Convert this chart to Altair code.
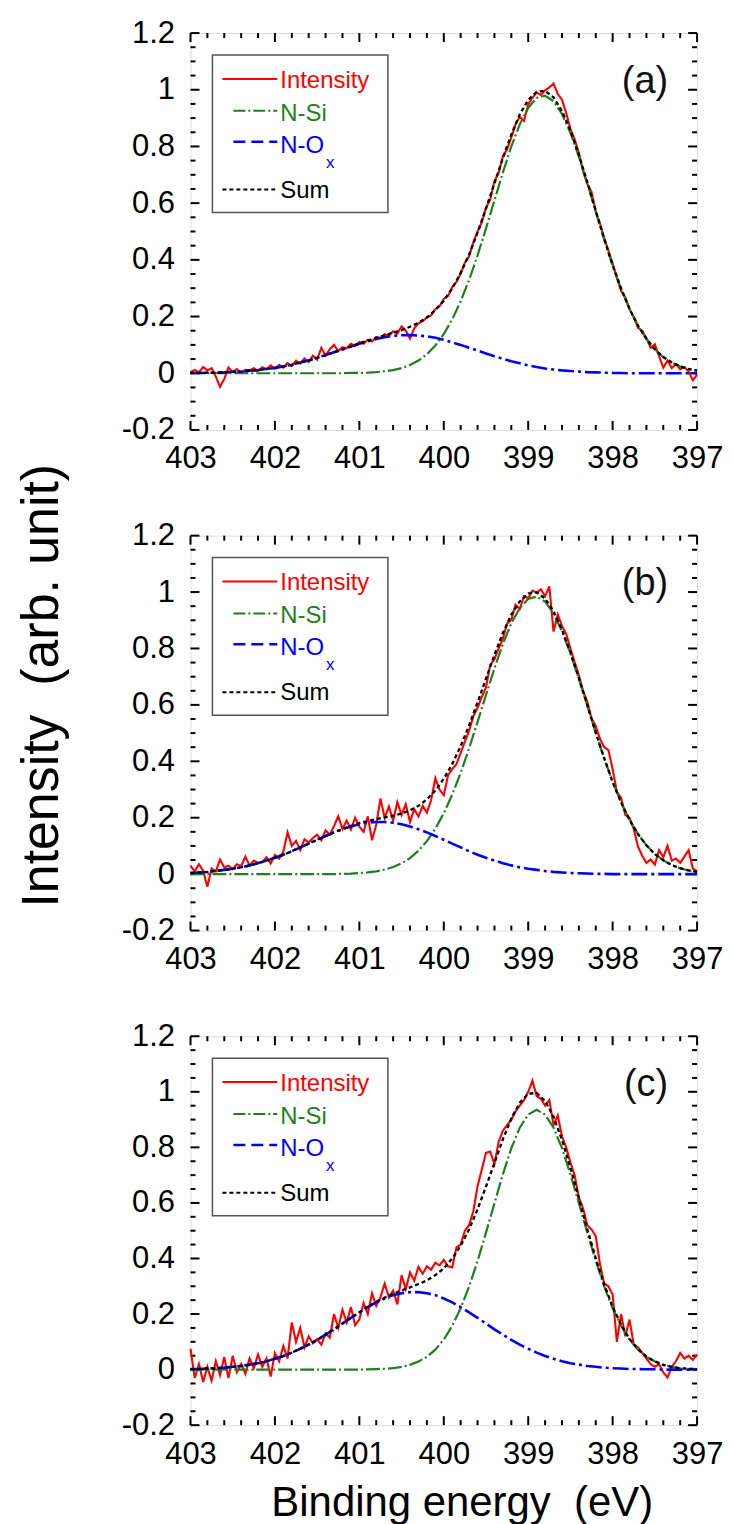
import altair as alt
import pandas as pd

FONT = "Liberation Sans"

# ---------------- data ----------------
E_FINE = [round(403 - 0.05 * i, 2) for i in range(121)]     # 403.00 ... 397.00
E_COARSE = [round(403 - 0.1 * i, 1) for i in range(61)]     # 403.0 ... 397.0

X_TICKS_MAJOR = [403, 402, 401, 400, 399, 398, 397]
X_TICKS_MINOR = [402.8, 402.6, 402.4, 402.2, 401.8, 401.6, 401.4, 401.2,
                 400.8, 400.6, 400.4, 400.2, 399.8, 399.6, 399.4, 399.2,
                 398.8, 398.6, 398.4, 398.2, 397.8, 397.6, 397.4, 397.2]
Y_TICKS_MAJOR = [-0.2, 0, 0.2, 0.4, 0.6, 0.8, 1.0, 1.2]
Y_TICKS_MINOR = [-0.15, -0.1, -0.05, 0.05, 0.1, 0.15, 0.25, 0.3, 0.35, 0.45,
                 0.5, 0.55, 0.65, 0.7, 0.75, 0.85, 0.9, 0.95, 1.05, 1.1, 1.15]

# ---- panel (a)
INT_A = [0.004, 0.012, 0.003, 0.022, 0.010, 0.018, -0.012, -0.048, -0.020, 0.020,
         0.004, 0.015, 0.002, 0.012, 0.010, 0.018, 0.008, 0.021, 0.014, 0.028,
         0.016, 0.030, 0.020, 0.036, 0.025, 0.044, 0.034, 0.052, 0.040, 0.062,
         0.048, 0.090, 0.062, 0.085, 0.100, 0.078, 0.092, 0.088, 0.104, 0.096,
         0.110, 0.104, 0.118, 0.112, 0.128, 0.124, 0.138, 0.132, 0.148, 0.140,
         0.165, 0.150, 0.122, 0.158, 0.176, 0.184, 0.196, 0.204, 0.226, 0.236,
         0.262, 0.272, 0.304, 0.322, 0.352, 0.390, 0.412, 0.462, 0.500, 0.532,
         0.585, 0.612, 0.678, 0.706, 0.765, 0.790, 0.832, 0.878, 0.905, 0.890,
         0.948, 0.972, 0.990, 0.982, 0.998, 1.008, 1.022, 0.985, 0.965, 0.918,
         0.862, 0.825, 0.778, 0.712, 0.668, 0.640, 0.570, 0.528, 0.478, 0.432,
         0.388, 0.336, 0.290, 0.268, 0.226, 0.198, 0.160, 0.150, 0.124, 0.090,
         0.102, 0.060, 0.020, 0.045, 0.018, 0.032, 0.014, 0.022, 0.006, -0.025,
         -0.005]
NSI_A = [0.0] * 19 + [
    0.001, 0.001, 0.002, 0.004, 0.007, 0.011, 0.018, 0.029, 0.045, 0.067,
    0.098, 0.138, 0.190, 0.254, 0.329, 0.416, 0.511, 0.610, 0.708, 0.800,
    0.878, 0.936, 0.971, 0.979, 0.960, 0.915, 0.848, 0.764, 0.670, 0.570,
    0.472, 0.380, 0.298, 0.227, 0.168, 0.121, 0.084, 0.057, 0.038, 0.024,
    0.015, 0.009]
NOX_A = [0.001, 0.001, 0.002, 0.002, 0.003, 0.005, 0.006, 0.009, 0.011, 0.015,
         0.019, 0.024, 0.030, 0.038, 0.045, 0.054, 0.064, 0.074, 0.084, 0.094,
         0.104, 0.113, 0.121, 0.127, 0.132, 0.134, 0.135, 0.133, 0.130, 0.125,
         0.118, 0.109, 0.100, 0.090, 0.080, 0.070, 0.060, 0.051, 0.042, 0.035,
         0.028, 0.022, 0.017, 0.013, 0.010, 0.008, 0.006, 0.004, 0.003, 0.002,
         0.001, 0.001] + [0.0] * 9
SUM_A = [0.001, 0.001, 0.002, 0.002, 0.003, 0.005, 0.006, 0.009, 0.011, 0.015,
         0.019, 0.024, 0.030, 0.038, 0.045, 0.054, 0.064, 0.074, 0.084, 0.095,
         0.105, 0.115, 0.125, 0.134, 0.143, 0.152, 0.164, 0.178, 0.197, 0.223,
         0.256, 0.299, 0.354, 0.419, 0.496, 0.581, 0.670, 0.759, 0.842, 0.913,
         0.964, 0.993, 0.996, 0.973, 0.925, 0.856, 0.770, 0.674, 0.573, 0.474,
         0.381, 0.299, 0.227, 0.168, 0.121, 0.084, 0.057, 0.038, 0.024, 0.015,
         0.009]

# ---- panel (b)
INT_B = [0.030, 0.010, 0.035, 0.012, -0.045, 0.020, 0.010, 0.052, 0.024, 0.030,
         0.018, 0.035, 0.028, 0.062, 0.030, 0.048, 0.040, 0.042, 0.060, 0.038,
         0.068, 0.055, 0.080, 0.148, 0.100, 0.118, 0.085, 0.124, 0.112, 0.128,
         0.140, 0.120, 0.155, 0.140, 0.170, 0.205, 0.160, 0.190, 0.158, 0.200,
         0.168, 0.150, 0.205, 0.120, 0.175, 0.268, 0.200, 0.240, 0.190, 0.255,
         0.210, 0.248, 0.185, 0.230, 0.205, 0.242, 0.218, 0.262, 0.340, 0.300,
         0.280, 0.350, 0.372, 0.390, 0.430, 0.470, 0.508, 0.560, 0.590, 0.628,
         0.662, 0.742, 0.762, 0.800, 0.835, 0.888, 0.902, 0.955, 0.940, 0.985,
         0.978, 1.005, 0.998, 1.010, 0.985, 1.020, 0.860, 0.920, 0.880, 0.852,
         0.800, 0.752, 0.706, 0.650, 0.612, 0.552, 0.525, 0.480, 0.450, 0.440,
         0.372, 0.292, 0.270, 0.210, 0.200, 0.160, 0.098, 0.065, 0.040, 0.052,
         0.034, 0.085, 0.060, 0.100, 0.048, 0.055, 0.040, 0.062, 0.085, 0.020,
         0.010]
NSI_B = [0.0] * 18 + [
    0.001, 0.002, 0.004, 0.006, 0.010, 0.016, 0.025, 0.038, 0.057, 0.083,
    0.117, 0.161, 0.216, 0.282, 0.359, 0.446, 0.540, 0.635, 0.729, 0.816,
    0.889, 0.943, 0.976, 0.984, 0.966, 0.924, 0.861, 0.782, 0.692, 0.597,
    0.501, 0.410, 0.327, 0.254, 0.192, 0.142, 0.102, 0.071, 0.049, 0.032,
    0.021, 0.013, 0.008]
NOX_B = [0.004, 0.006, 0.008, 0.011, 0.015, 0.019, 0.024, 0.031, 0.039, 0.048,
         0.058, 0.069, 0.081, 0.095, 0.108, 0.122, 0.135, 0.148, 0.159, 0.169,
         0.177, 0.182, 0.185, 0.185, 0.182, 0.177, 0.169, 0.159, 0.148, 0.135,
         0.122, 0.108, 0.095, 0.081, 0.069, 0.058, 0.048, 0.039, 0.031, 0.024,
         0.019, 0.015, 0.011, 0.008, 0.006, 0.004, 0.003, 0.002, 0.001, 0.001] + [0.0] * 11
SUM_B = [0.004, 0.006, 0.008, 0.011, 0.015, 0.019, 0.024, 0.031, 0.039, 0.048,
         0.058, 0.069, 0.081, 0.095, 0.108, 0.122, 0.135, 0.148, 0.160, 0.171,
         0.181, 0.188, 0.195, 0.201, 0.207, 0.215, 0.226, 0.242, 0.265, 0.296,
         0.338, 0.390, 0.454, 0.527, 0.609, 0.693, 0.777, 0.855, 0.920, 0.967,
         0.995, 0.999, 0.977, 0.932, 0.867, 0.786, 0.695, 0.599, 0.502, 0.411,
         0.327, 0.254, 0.192, 0.142, 0.102, 0.071, 0.049, 0.032, 0.021, 0.013,
         0.008]

# ---- panel (c)
INT_C = [0.075, -0.030, 0.020, -0.045, 0.010, -0.040, 0.030, -0.020, 0.045, -0.030,
         0.050, -0.010, 0.020, -0.015, 0.040, 0.005, 0.055, 0.010, 0.040, -0.025,
         0.060, 0.030, 0.085, 0.040, 0.170, 0.100, 0.150, 0.080, 0.120, 0.095,
         0.110, 0.090, 0.130, 0.115, 0.200, 0.150, 0.215, 0.170, 0.225, 0.160,
         0.180, 0.240, 0.200, 0.275, 0.230, 0.260, 0.310, 0.260, 0.285, 0.235,
         0.340, 0.290, 0.350, 0.320, 0.370, 0.345, 0.372, 0.360, 0.385, 0.375,
         0.395, 0.372, 0.368, 0.440, 0.450, 0.500, 0.520, 0.570, 0.660, 0.720,
         0.780, 0.785, 0.740, 0.820, 0.860, 0.880, 0.900, 0.930, 0.950, 0.970,
         1.000, 1.040, 0.985, 0.975, 0.950, 0.970, 0.880, 0.915, 0.840, 0.800,
         0.745, 0.700, 0.620, 0.580, 0.520, 0.505, 0.480, 0.380, 0.310, 0.300,
         0.270, 0.100, 0.200, 0.120, 0.180, 0.090, 0.080, 0.060, 0.040, 0.020,
         0.010, 0.020, -0.010, -0.028, 0.010, 0.030, 0.060, 0.040, 0.050, 0.035,
         0.055]
NSI_C = [0.0] * 21 + [
    0.001, 0.002, 0.003, 0.005, 0.010, 0.017, 0.029, 0.046, 0.072, 0.108,
    0.158, 0.221, 0.299, 0.391, 0.493, 0.599, 0.703, 0.797, 0.871, 0.918,
    0.935, 0.918, 0.871, 0.797, 0.703, 0.599, 0.493, 0.391, 0.299, 0.221,
    0.158, 0.108, 0.072, 0.046, 0.029, 0.017, 0.010, 0.005, 0.003, 0.002]
NOX_C = [0.002, 0.002, 0.004, 0.005, 0.007, 0.010, 0.013, 0.018, 0.023, 0.030,
         0.039, 0.049, 0.061, 0.075, 0.090, 0.107, 0.126, 0.145, 0.166, 0.186,
         0.206, 0.225, 0.242, 0.256, 0.268, 0.275, 0.279, 0.279, 0.275, 0.268,
         0.256, 0.242, 0.225, 0.206, 0.186, 0.166, 0.145, 0.126, 0.107, 0.090,
         0.075, 0.061, 0.049, 0.039, 0.030, 0.023, 0.018, 0.013, 0.010, 0.007,
         0.005, 0.004, 0.002, 0.002, 0.001, 0.001] + [0.0] * 5
SUM_C = [0.002, 0.002, 0.004, 0.005, 0.007, 0.010, 0.013, 0.018, 0.023, 0.030,
         0.039, 0.049, 0.061, 0.075, 0.090, 0.107, 0.126, 0.145, 0.166, 0.186,
         0.206, 0.226, 0.244, 0.259, 0.273, 0.285, 0.296, 0.308, 0.321, 0.340,
         0.364, 0.400, 0.446, 0.505, 0.577, 0.659, 0.744, 0.829, 0.904, 0.961,
         0.993, 0.996, 0.967, 0.910, 0.827, 0.726, 0.617, 0.506, 0.401, 0.306,
         0.226, 0.162, 0.110, 0.074, 0.047, 0.030, 0.017, 0.010, 0.005, 0.003,
         0.002]

LEGEND_LABELS = ["Intensity", "N-Si", "N-O", "Sum"]
PANEL_TAGS = ["(a)", "(b)", "(c)"]

# ---------------- styling ----------------
RED = "#ff0000"
GREEN = "#1f7f1f"
BLUE = "#0000ff"
BLACK = "#000000"
DASH_NSI = [14, 3, 2, 3]
DASH_NOX = [16, 4, 3, 4]
DASH_SUM = [4, 3]

W = 508
DUMMY = pd.DataFrame({"k": [0]})

xscale = alt.Scale(domain=[397, 403], reverse=True, nice=False, zero=False)
yscale = alt.Scale(domain=[-0.2, 1.2], nice=False, zero=False)

LABEL_EXPR = ("datum.value < 0 ? '-' + format(-datum.value, '~g') "
              ": format(datum.value, '~g')")


def make_xaxis(with_title):
    kw = dict(values=X_TICKS_MAJOR, format="d", labelFlush=False, labelOverlap=False,
              ticks=False, tickSize=0, domain=False, grid=False,
              labelFont=FONT, labelFontSize=31, labelColor="black", labelPadding=14)
    if with_title:
        kw.update(title="Binding energy\u00a0\u00a0(eV)", titleFont=FONT, titleFontSize=42,
                  titleFontWeight="normal", titleColor="black", titleX=272, titleY=91,
                  titleAlign="center", titleBaseline="alphabetic", titleAngle=0)
    else:
        kw.update(title=None)
    return alt.Axis(**kw)


def make_yaxis(with_title):
    kw = dict(values=Y_TICKS_MAJOR, labelExpr=LABEL_EXPR, labelFlush=False,
              labelOverlap=False, ticks=False, tickSize=0, domain=False, grid=False,
              labelFont=FONT, labelFontSize=31, labelColor="black", labelPadding=16)
    if with_title:
        kw.update(title="Intensity\u00a0\u00a0(arb. unit)", titleFont=FONT, titleFontSize=52,
                  titleFontWeight="normal", titleColor="black", titleX=-149, titleY=150,
                  titleAlign="center", titleBaseline="middle", titleAngle=270)
    else:
        kw.update(title=None)
    return alt.Axis(**kw)


def panel(inten, nsi, nox, summ, tag, h, xtitle, ytitle):
    X = alt.X("x:Q", scale=xscale, axis=make_xaxis(xtitle))
    Y = alt.Y("y:Q", scale=yscale, axis=make_yaxis(ytitle))

    layers = []

    # inward ticks on all four sides
    for vals, ln in ((X_TICKS_MAJOR, 9), (X_TICKS_MINOR, 5)):
        df = pd.DataFrame({"x": vals})
        layers.append(alt.Chart(df).mark_rule(color="black", strokeWidth=2)
                      .encode(x=X, y=alt.value(h), y2=alt.value(h - ln)))
        layers.append(alt.Chart(df).mark_rule(color="black", strokeWidth=2)
                      .encode(x=X, y=alt.value(0), y2=alt.value(ln)))
    for vals, ln in ((Y_TICKS_MAJOR, 9), (Y_TICKS_MINOR, 5)):
        df = pd.DataFrame({"y": vals})
        layers.append(alt.Chart(df).mark_rule(color="black", strokeWidth=2)
                      .encode(y=Y, x=alt.value(0), x2=alt.value(ln)))
        layers.append(alt.Chart(df).mark_rule(color="black", strokeWidth=2)
                      .encode(y=Y, x=alt.value(W), x2=alt.value(W - ln)))

    # data curves
    df_i = pd.DataFrame({"x": E_FINE, "y": inten})
    layers.append(alt.Chart(df_i).mark_line(color=RED, strokeWidth=2.1)
                  .encode(x=X, y=Y))
    layers.append(alt.Chart(pd.DataFrame({"x": E_COARSE, "y": nsi}))
                  .mark_line(color=GREEN, strokeWidth=2.2, strokeDash=DASH_NSI)
                  .encode(x=X, y=Y))
    layers.append(alt.Chart(pd.DataFrame({"x": E_COARSE, "y": nox}))
                  .mark_line(color=BLUE, strokeWidth=2.6, strokeDash=DASH_NOX)
                  .encode(x=X, y=Y))
    layers.append(alt.Chart(pd.DataFrame({"x": E_COARSE, "y": summ}))
                  .mark_line(color=BLACK, strokeWidth=2.3, strokeDash=DASH_SUM)
                  .encode(x=X, y=Y))

    # legend box
    layers.append(alt.Chart(DUMMY).mark_rect(filled=False, stroke="#555555", strokeWidth=1.5)
                  .encode(x=alt.value(22), x2=alt.value(198), y=alt.value(22), y2=alt.value(180)))

    def seg(x1, x2, y, color, dash=None, width=2):
        kw = dict(color=color, strokeWidth=width)
        if dash:
            kw["strokeDash"] = dash
        return alt.Chart(DUMMY).mark_rule(**kw).encode(
            x=alt.value(x1), x2=alt.value(x2), y=alt.value(y))

    def txt(s, x, y, color, size, align="left"):
        return alt.Chart(DUMMY).mark_text(text=s, font=FONT, fontSize=size, color=color,
                                          align=align, baseline="alphabetic").encode(
            x=alt.value(x), y=alt.value(y))

    layers += [
        seg(32, 87, 46, RED),
        txt(LEGEND_LABELS[0], 90, 55, RED, 24),
        seg(43, 87, 78, GREEN, [12, 3, 2, 3]),
        txt(LEGEND_LABELS[1], 90, 88, GREEN, 24),
        seg(43, 87, 109, BLUE, [12, 6], 2.5),
        txt(LEGEND_LABELS[2], 90, 120, BLUE, 24),
        txt("x", 136, 135, BLUE, 17),
        seg(32, 87, 157, BLACK, DASH_SUM),
        txt(LEGEND_LABELS[3], 90, 165, BLACK, 24),
        txt(tag, 479, 60, "#111111", 38, align="right"),
    ]

    return alt.layer(*layers).properties(width=W, height=h)


pa = panel(INT_A, NSI_A, NOX_A, SUM_A, PANEL_TAGS[0], 398, False, False)
pb = panel(INT_B, NSI_B, NOX_B, SUM_B, PANEL_TAGS[1], 396, False, True)
pc = panel(INT_C, NSI_C, NOX_C, SUM_C, PANEL_TAGS[2], 390, True, False)

chart = alt.vconcat(pa, pb, pc, spacing=106, bounds="flush").properties(
    padding={"left": 7, "top": 6, "right": 0, "bottom": 0}
).configure_view(stroke="black", strokeWidth=2.5).configure(font=FONT)

chart.save("out.html", embed_options={"renderer": "svg", "actions": False})
